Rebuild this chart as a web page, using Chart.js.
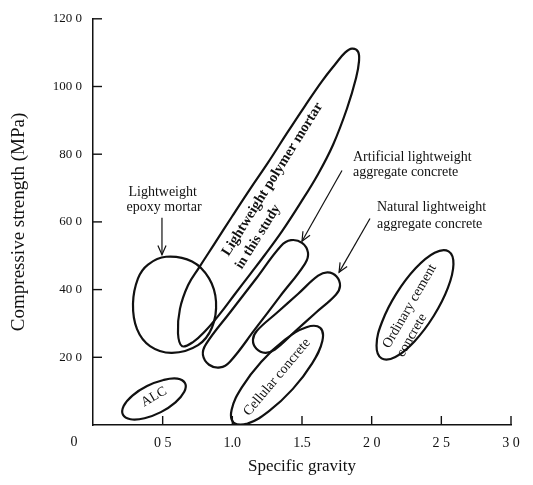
<!DOCTYPE html>
<html><head><meta charset="utf-8">
<script src="https://cdn.jsdelivr.net/npm/chart.js@4.4.0/dist/chart.umd.min.js"></script>
<style>html,body{margin:0;padding:0;background:#fff;}#wrap{width:533px;height:485px;}</style>
</head><body><div id="wrap"><canvas id="c" width="533" height="485"></canvas></div>
<script>
// ---- data ----
const regionNames = ['Lightweight epoxy mortar', 'Lightweight polymer mortar in this study',
  'Artificial lightweight aggregate concrete', 'Natural lightweight aggregate concrete',
  'Cellular concrete', 'ALC', 'Ordinary cement concrete'];
const xTickLabels = ['', '0 5', '1.0', '1.5', '2 0', '2 5', '3 0'];
const yTickLabels = ['', '20 0', '40 0', '60 0', '80 0', '100 0', '120 0'];
const originLabel = '0';
const xTitle = 'Specific gravity';
const yTitle = 'Compressive strength (MPa)';

// region outlines: [specific gravity, compressive strength (MPa)]
const epoxyOutline = [[0.524,49.7],[0.711,48.3],[0.833,43.3],[0.883,36.4],[0.854,28.8],[0.754,23.6],
  [0.567,21.3],[0.409,23.3],[0.316,28.3],[0.287,35.8],[0.323,43.3],[0.395,47.4]];
const polymerOutline = [[0.639,23.3],[0.610,27.1],[0.624,34.3],[0.682,41.3],[0.761,46.5],[0.876,53.8],
  [0.998,61.6],[1.127,69.7],[1.256,77.5],[1.392,86.2],[1.522,94.3],[1.644,101.6],[1.737,106.5],
  [1.809,110.0],[1.859,111.2],[1.902,110.3],[1.909,107.4],[1.888,102.5],[1.823,93.5],[1.723,82.8],
  [1.615,74.1],[1.486,65.4],[1.356,57.2],[1.234,50.3],[1.127,44.5],[1.019,38.7],[0.912,32.9],
  [0.804,27.7],[0.718,24.5]];
const artificialOutline = [[1.349,52.9],[1.421,54.6],[1.500,53.8],[1.543,50.9],[1.522,47.7],[1.342,38.0],
  [1.163,28.3],[0.983,18.7],[0.912,17.0],[0.833,17.8],[0.789,20.7],[0.811,23.9],[0.990,33.6],[1.170,43.2]];
const naturalOutline = [[1.616,44.1],[1.684,45.1],[1.748,43.9],[1.773,41.1],[1.743,38.5],[1.597,33.1],
  [1.451,27.7],[1.305,22.3],[1.237,21.3],[1.173,22.5],[1.148,25.2],[1.178,27.9],[1.324,33.3],[1.471,38.7]];
const cellularOutline = [[1.631,28.7],[1.646,24.8],[1.573,18.2],[1.433,10.6],[1.263,4.1],[1.109,0.4],
  [1.011,0.6],[0.995,4.5],[1.068,11.1],[1.208,18.7],[1.378,25.2],[1.532,28.9]];
const alcOutline = [[0.661,12.3],[0.655,9.8],[0.592,6.7],[0.487,3.8],[0.370,2.0],[0.269,1.7],
  [0.215,3.0],[0.220,5.6],[0.283,8.7],[0.388,11.5],[0.506,13.3],[0.606,13.7]];
const ordinaryOutline = [[2.552,51.3],[2.587,47.5],[2.547,40.5],[2.445,32.2],[2.307,24.7],[2.170,20.1],
  [2.071,19.7],[2.035,23.5],[2.075,30.5],[2.177,38.8],[2.315,46.3],[2.452,50.9]];

// ---- annotation layout (text, anchor in data units, rotation, alignment) ----
const SERIF = '"Liberation Serif", "Times New Roman", serif';
const notes = [
  {t:'Lightweight', x:0.50, y:68.8, a:0, al:'center', s:14, w:'normal'},
  {t:'epoxy mortar', x:0.51, y:64.2, a:0, al:'center', s:14, w:'normal'},
  {t:'Artificial lightweight', x:1.866, y:79.0, a:0, al:'left', s:14, w:'normal'},
  {t:'aggregate concrete', x:1.866, y:74.6, a:0, al:'left', s:14, w:'normal'},
  {t:'Natural lightweight', x:2.038, y:64.2, a:0, al:'left', s:14, w:'normal'},
  {t:'aggregate concrete', x:2.038, y:59.3, a:0, al:'left', s:14, w:'normal'},
  {t:'Lightweight polymer mortar', x:0.950, y:50.3, a:-58, al:'left', s:14.5, w:'bold'},
  {t:'in this study', x:1.046, y:46.4, a:-58, al:'left', s:14, w:'bold'},
  {t:'ALC', x:0.438, y:8.3, a:-30, al:'center', s:13.5, w:'normal'},
  {t:'Cellular concrete', x:1.321, y:14.1, a:-50, al:'center', s:14, w:'normal'},
  {t:'Ordinary cement', x:2.103, y:23.0, a:-60, al:'left', s:14, w:'normal'},
  {t:'concrete', x:2.203, y:20.4, a:-60, al:'left', s:14, w:'normal'}
];
const arrows = [
  {x0:0.495, y0:61.2, x1:0.495, y1:50.3},
  {x0:1.787, y0:75.2, x1:1.500, y1:54.3},
  {x0:1.988, y0:61.0, x1:1.766, y1:45.1}
];

function loopDataset(label, outline) {
  const pts = outline.map(([x, y]) => ({x, y}));
  const n = pts.length;
  const data = [pts[n - 1], ...pts, pts[0], pts[1]];
  const last = data.length - 1;
  return {
    label, data, showLine: true, fill: false, tension: 0.4,
    borderColor: '#111', borderWidth: 2.2, pointRadius: 0, pointHoverRadius: 0,
    borderJoinStyle: 'round', borderCapStyle: 'round',
    segment: {
      borderColor: ctx => (ctx.p0DataIndex === 0 || ctx.p1DataIndex === last) ? 'rgba(0,0,0,0)' : undefined
    }
  };
}

const overlay = {
  id: 'overlay',
  beforeDraw(chart) {
    const {ctx} = chart;
    ctx.save(); ctx.fillStyle = '#fff'; ctx.fillRect(0, 0, chart.width, chart.height); ctx.restore();
  },
  afterDraw(chart) {
    const {ctx, scales: {x, y}} = chart;
    ctx.save();
    ctx.strokeStyle = '#111'; ctx.fillStyle = '#111'; ctx.lineWidth = 1.4;
    const seg = (a, b, c, d) => { ctx.beginPath(); ctx.moveTo(a, b); ctx.lineTo(c, d); ctx.stroke(); };
    y.ticks.forEach(t => { if (t.value === 0) return; const py = y.getPixelForValue(t.value); seg(x.left, py, x.left + 9, py); });
    x.ticks.forEach(t => { if (t.value === 0) return; const px = x.getPixelForValue(t.value); seg(px, y.bottom, px, y.bottom - 9); });
    ctx.font = '14px ' + SERIF; ctx.textAlign = 'center'; ctx.textBaseline = 'middle';
    ctx.fillText(originLabel, x.left - 19, y.bottom + 17);
    // arrows
    ctx.lineWidth = 1.2;
    arrows.forEach(a => {
      const X0 = x.getPixelForValue(a.x0), Y0 = y.getPixelForValue(a.y0);
      const X1 = x.getPixelForValue(a.x1), Y1 = y.getPixelForValue(a.y1);
      seg(X0, Y0, X1, Y1);
      const ang = Math.atan2(Y1 - Y0, X1 - X0), L = 10, h = 0.42;
      ctx.beginPath();
      ctx.moveTo(X1 - L * Math.cos(ang - h), Y1 - L * Math.sin(ang - h));
      ctx.lineTo(X1, Y1);
      ctx.lineTo(X1 - L * Math.cos(ang + h), Y1 - L * Math.sin(ang + h));
      ctx.stroke();
    });
    // notes
    notes.forEach(n => {
      ctx.save();
      ctx.translate(x.getPixelForValue(n.x), y.getPixelForValue(n.y));
      ctx.rotate(n.a * Math.PI / 180);
      ctx.font = n.w + ' ' + n.s + 'px ' + SERIF;
      ctx.textAlign = n.al; ctx.textBaseline = 'middle';
      ctx.fillText(n.t, 0, 0);
      ctx.restore();
    });
    ctx.restore();
  }
};

new Chart(document.getElementById('c'), {
  type: 'scatter',
  data: {
    datasets: [
      loopDataset(regionNames[0], epoxyOutline),
      loopDataset(regionNames[1], polymerOutline),
      loopDataset(regionNames[2], artificialOutline),
      loopDataset(regionNames[3], naturalOutline),
      loopDataset(regionNames[4], cellularOutline),
      loopDataset(regionNames[5], alcOutline),
      loopDataset(regionNames[6], ordinaryOutline)
    ]
  },
  options: {
    responsive: false, animation: false, events: [],
    layout: {padding: {left: 8, right: 22, top: 9, bottom: 8}},
    plugins: {legend: {display: false}, tooltip: {enabled: false}},
    scales: {
      x: {
        type: 'linear', min: 0, max: 3,
        afterFit: s => { s.height = 52; },
        ticks: {stepSize: 0.5, autoSkip: false, maxRotation: 0, padding: 10, color: '#111',
          font: {family: SERIF, size: 14}, callback: (v, i) => xTickLabels[i] ?? ''},
        grid: {display: false, drawTicks: false},
        border: {display: true, color: '#111', width: 1.5},
        title: {display: true, text: xTitle, color: '#111', font: {family: SERIF, size: 17}, padding: 0}
      },
      y: {
        type: 'linear', min: 0, max: 120,
        afterFit: s => { s.width = 85; },
        ticks: {stepSize: 20, autoSkip: false, padding: 11, color: '#111',
          font: {family: SERIF, size: 13}, callback: (v, i) => yTickLabels[i] ?? ''},
        grid: {display: false, drawTicks: false},
        border: {display: true, color: '#111', width: 1.5},
        title: {display: true, text: yTitle, color: '#111', font: {family: SERIF, size: 19}, padding: 0}
      }
    }
  },
  plugins: [overlay]
});
</script></body></html>
